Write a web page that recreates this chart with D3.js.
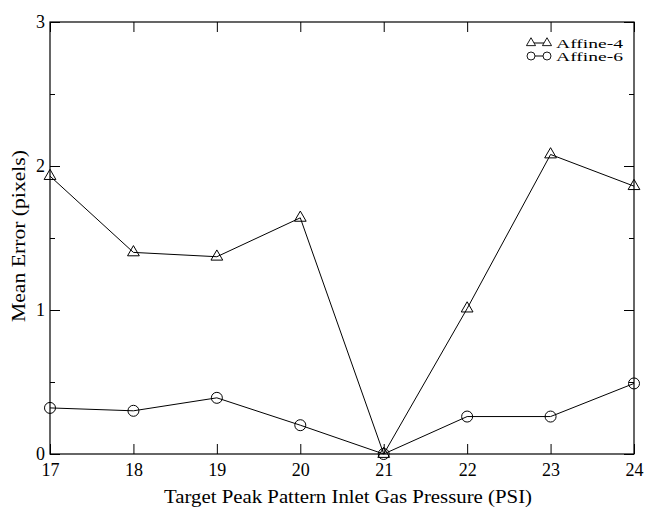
<!DOCTYPE html>
<html>
<head>
<meta charset="utf-8">
<script src="https://cdn.jsdelivr.net/npm/d3@7"></script>
<style>
  body { margin: 0; background: #fff; }
  svg { display: block; }
  svg text { font-family: "Liberation Serif", "Times New Roman", serif !important; }
</style>
</head>
<body>
<svg width="646" height="510"></svg>
<script>
const pressures = [17, 18, 19, 20, 21, 22, 23, 24];
const affine4 = [1.93, 1.40, 1.37, 1.64, 0.0, 1.01, 2.08, 1.86];
const affine6 = [0.32, 0.30, 0.39, 0.20, 0.0, 0.26, 0.26, 0.49];
const yMajor = [0, 1, 2, 3];
const yMinor = [0.5, 1.5, 2.5];
const seriesNames = ['Affine-4', 'Affine-6'];

const svg = d3.select('svg');
const plotLeft = 50, plotRight = 634, plotTop = 22, plotBottom = 454;

const x = d3.scaleLinear().domain([17, 24]).range([plotLeft, plotRight]);
const y = d3.scaleLinear().domain([0, 3]).range([plotBottom, plotTop]);

// axes: ticks point inward, labels on left/bottom only
const styleAxis = g => {
  g.select('.domain').remove();
  g.selectAll('line').attr('stroke', '#000').attr('stroke-width', 1);
  g.selectAll('text').attr('fill', '#000').attr('font-size', 18);
};

svg.append('g')
  .attr('transform', `translate(0,${plotBottom})`)
  .call(d3.axisBottom(x).tickValues(pressures).tickSize(-10).tickPadding(9).tickFormat(d3.format('d')))
  .call(styleAxis);

svg.append('g')
  .attr('transform', `translate(0,${plotTop})`)
  .call(d3.axisTop(x).tickValues(pressures).tickSize(-10).tickFormat(''))
  .call(styleAxis);

svg.append('g')
  .attr('transform', `translate(${plotLeft},0)`)
  .call(d3.axisLeft(y).tickValues(yMajor).tickSize(-10).tickPadding(5).tickFormat(d3.format('d')))
  .call(styleAxis);

svg.append('g')
  .attr('transform', `translate(${plotLeft},0)`)
  .call(d3.axisLeft(y).tickValues(yMinor).tickSize(-5).tickFormat(''))
  .call(styleAxis);

svg.append('g')
  .attr('transform', `translate(${plotRight},0)`)
  .call(d3.axisRight(y).tickValues(yMajor).tickSize(-10).tickFormat(''))
  .call(styleAxis);

svg.append('g')
  .attr('transform', `translate(${plotRight},0)`)
  .call(d3.axisRight(y).tickValues(yMinor).tickSize(-5).tickFormat(''))
  .call(styleAxis);

// frame
svg.append('rect')
  .attr('x', plotLeft).attr('y', plotTop)
  .attr('width', plotRight - plotLeft).attr('height', plotBottom - plotTop)
  .attr('fill', 'none').attr('stroke', '#000').attr('stroke-width', 1.2);

const line = d3.line().x((d, i) => x(pressures[i])).y(d => y(d));

const triangle = d3.symbol().type(d3.symbolTriangle).size(60);
const triangleSmall = d3.symbol().type(d3.symbolTriangle).size(36);

// Affine-4
svg.append('path').datum(affine4)
  .attr('d', line).attr('fill', 'none').attr('stroke', '#000').attr('stroke-width', 1);
svg.selectAll('.tri').data(affine4).enter().append('path')
  .attr('class', 'tri')
  .attr('d', triangle)
  .attr('transform', (d, i) => `translate(${x(pressures[i])},${y(d)})`)
  .attr('fill', 'none').attr('stroke', '#000').attr('stroke-width', 1);

// Affine-6
svg.append('path').datum(affine6)
  .attr('d', line).attr('fill', 'none').attr('stroke', '#000').attr('stroke-width', 1);
svg.selectAll('.circ').data(affine6).enter().append('circle')
  .attr('class', 'circ')
  .attr('cx', (d, i) => x(pressures[i])).attr('cy', d => y(d)).attr('r', 5.5)
  .attr('fill', 'none').attr('stroke', '#000').attr('stroke-width', 1);

// legend
const legend = svg.append('g').attr('transform', 'translate(531,43)');
seriesNames.forEach((name, i) => {
  const row = legend.append('g').attr('transform', `translate(0,${i * 13})`);
  row.append('line').attr('x1', 0).attr('x2', 16).attr('y1', 0).attr('y2', 0)
    .attr('stroke', '#000').attr('stroke-width', 1);
  [0, 16].forEach(mx => {
    if (i === 0) {
      row.append('path').attr('d', triangleSmall).attr('transform', `translate(${mx},0)`)
        .attr('fill', '#fff').attr('stroke', '#000').attr('stroke-width', 0.9);
    } else {
      row.append('circle').attr('cx', mx).attr('cy', 0).attr('r', 4)
        .attr('fill', '#fff').attr('stroke', '#000').attr('stroke-width', 0.9);
    }
  });
  row.append('text').attr('x', 25).attr('y', 4.5)
    .attr('font-size', 13).attr('fill', '#000')
    .attr('textLength', 67).attr('lengthAdjust', 'spacingAndGlyphs')
    .text(name);
});

// axis titles
svg.append('text')
  .attr('x', 348).attr('y', 503)
  .attr('text-anchor', 'middle').attr('font-size', 18)
  .attr('textLength', 368).attr('lengthAdjust', 'spacingAndGlyphs')
  .text('Target Peak Pattern Inlet Gas Pressure (PSI)');

svg.append('text')
  .attr('transform', 'translate(25,236) rotate(-90)')
  .attr('text-anchor', 'middle').attr('font-size', 18)
  .attr('textLength', 172).attr('lengthAdjust', 'spacingAndGlyphs')
  .text('Mean Error (pixels)');
</script>
</body>
</html>
